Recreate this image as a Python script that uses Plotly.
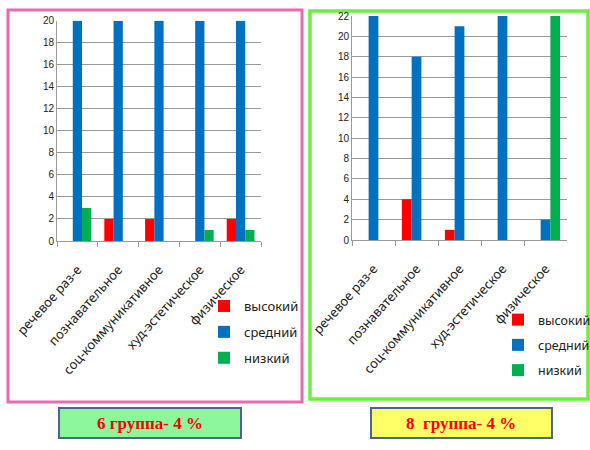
import plotly.graph_objects as go

categories = ["речевое раз-е", "познавательное", "соц-коммуникативное", "худ-эстетическое", "физическое"]
series_names = ["высокий", "средний", "низкий"]
colors = ["#FF0000", "#0070C0", "#00B050"]

g6_high = [0, 2, 2, 0, 2]
g6_mid = [20, 20, 20, 20, 20]
g6_low = [3, 0, 0, 1, 1]

g8_high = [0, 4, 1, 0, 0]
g8_mid = [22, 18, 21, 22, 2]
g8_low = [0, 0, 0, 0, 22]

W, H = 590, 450
def px(x):
    return x / W
def py(y):
    return 1 - y / H

fig = go.Figure()
for name, vals, col in zip(series_names, [g6_high, g6_mid, g6_low], colors):
    fig.add_trace(go.Bar(x=categories, y=vals, name=name, marker_color=col,
                         marker_line_width=0, xaxis="x", yaxis="y",
                         legend="legend", legendgroup="a" + name))
for name, vals, col in zip(series_names, [g8_high, g8_mid, g8_low], colors):
    fig.add_trace(go.Bar(x=categories, y=vals, name=name, marker_color=col,
                         marker_line_width=0, xaxis="x2", yaxis="y2",
                         legend="legend2", legendgroup="b" + name))

axis_common = dict(showline=True, linecolor="#9a9a9a", linewidth=1,
                   ticks="outside", ticklen=5, tickcolor="#9a9a9a",
                   tickson="boundaries", tickangle=-48, automargin=False,
                   ticklabelstandoff=15,
                   tickfont=dict(family="Noto Sans", size=13, color="#222"),
                   type="category", fixedrange=True)
yaxis_common = dict(showline=True, linecolor="#9a9a9a", linewidth=1,
                    showgrid=True, gridcolor="#9a9a9a", gridwidth=1, automargin=False,
                    dtick=2, tickfont=dict(family="Liberation Sans", size=10, color="#222"),
                    zeroline=False, ticks="", fixedrange=True)

legend_common = dict(bgcolor="rgba(0,0,0,0)", traceorder="grouped",
                     tracegroupgap=6, xanchor="left", yanchor="top",
                     itemclick=False)

fig.update_layout(
    width=W, height=H, autosize=False,
    margin=dict(l=0, r=0, t=0, b=0, autoexpand=False),
    paper_bgcolor="white", plot_bgcolor="white",
    barmode="group", bargap=0.32, bargroupgap=0,
    showlegend=True,
    xaxis=dict(domain=[px(57), px(261)], anchor="y", **axis_common),
    yaxis=dict(domain=[py(241), py(20.7)], range=[0, 20], anchor="x", **yaxis_common),
    xaxis2=dict(domain=[px(352), px(567)], anchor="y2", **axis_common),
    yaxis2=dict(domain=[py(240), py(16)], range=[0, 22], anchor="x2", **yaxis_common),
    legend=dict(x=px(204), y=py(291), font=dict(family="Noto Sans", size=13, color="#222"),
                **legend_common),
    legend2=dict(x=px(498), y=py(305), font=dict(family="Noto Sans", size=12.5, color="#222"),
                 **legend_common),
)

shapes = [
    dict(type="rect", xref="paper", yref="paper", x0=px(8), x1=px(302), y0=py(402), y1=py(10),
         line=dict(color="#EA6BB4", width=3), layer="below"),
    dict(type="rect", xref="paper", yref="paper", x0=px(310), x1=px(588), y0=py(399), y1=py(11),
         line=dict(color="#6CF03C", width=3.5), layer="below"),
    dict(type="rect", xref="paper", yref="paper", x0=px(59), x1=px(241), y0=py(438), y1=py(408),
         line=dict(color="#4A6590", width=2), fillcolor="#8CF79C", layer="below"),
    dict(type="rect", xref="paper", yref="paper", x0=px(371), x1=px(552), y0=py(438), y1=py(408),
         line=dict(color="#4A6590", width=2), fillcolor="#FFFF66", layer="below"),
]
fig.update_layout(shapes=shapes)

box_font = dict(family="Liberation Serif", size=17, color="#FF0000")
fig.add_annotation(xref="paper", yref="paper", x=px(150), y=py(423), text="<b>6 группа- 4 %</b>",
                   showarrow=False, font=box_font, xanchor="center", yanchor="middle")
fig.add_annotation(xref="paper", yref="paper", x=px(461), y=py(423), text="<b>8  группа- 4 %</b>",
                   showarrow=False, font=box_font, xanchor="center", yanchor="middle")

fig.write_html("out.html", config={"displayModeBar": False},
               post_script="document.body.style.margin='0px';document.body.style.overflow='hidden';")
